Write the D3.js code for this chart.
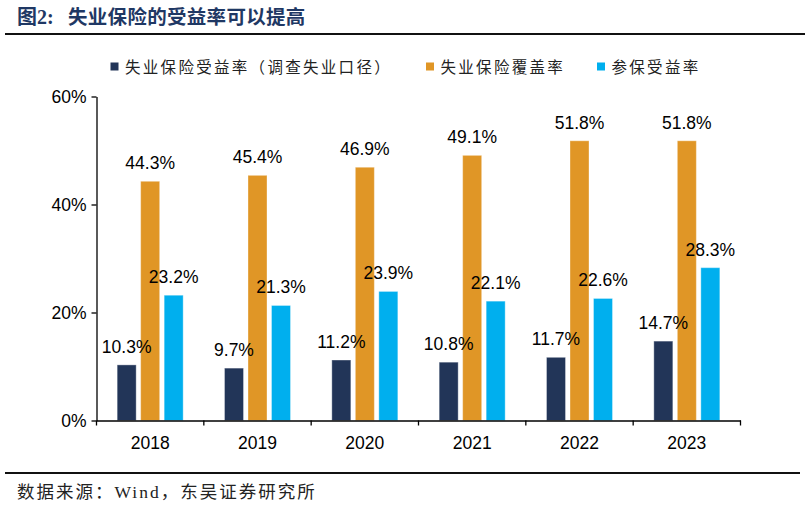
<!DOCTYPE html>
<html>
<head>
<meta charset="utf-8">
<script src="https://cdn.jsdelivr.net/npm/d3@7/dist/d3.min.js"></script>
<style>
  html, body { margin: 0; padding: 0; background: #fff; }
  svg { display: block; }
</style>
</head>
<body>
<svg id="chart" width="805" height="507"></svg>
<script>
const categories = ["2018", "2019", "2020", "2021", "2022", "2023"];
const seriesNames = ["失业保险受益率（调查失业口径）", "失业保险覆盖率", "参保受益率"];
const benefitRateSurvey = [10.3, 9.7, 11.2, 10.8, 11.7, 14.7];
const coverageRate = [44.3, 45.4, 46.9, 49.1, 51.8, 51.8];
const insuredBenefitRate = [23.2, 21.3, 23.9, 22.1, 22.6, 28.3];
const yTicks = [0, 20, 40, 60];
const colors = ["#223558", "#E09626", "#00AFEE"];
const titlePrefix = "图2:";
const titleText = "失业保险的受益率可以提高";
const sourceText = "数据来源：Wind，东吴证券研究所";

const series = [benefitRateSurvey, coverageRate, insuredBenefitRate];

const svg = d3.select("#chart");
const W = 805, H = 507;
const margin = { left: 96.5, right: 64.5, top: 96.5, bottom: 86.5 };

const x = d3.scaleBand().domain(categories).range([margin.left, W - margin.right]).padding(0);
const y = d3.scaleLinear().domain([0, 60]).range([H - margin.bottom, margin.top]);

// Title
svg.append("text")
  .attr("x", 17).attr("y", 24)
  .attr("font-family", "'Liberation Serif', 'Noto Sans CJK SC', serif")
  .attr("font-weight", "bold")
  .attr("font-size", 20)
  .attr("fill", "#1F3864")
  .text(titlePrefix);
svg.append("text")
  .attr("x", 68).attr("y", 24)
  .attr("font-family", "'Noto Sans CJK SC', sans-serif")
  .attr("font-weight", "bold")
  .attr("font-size", 19.5)
  .attr("letter-spacing", 0.3)
  .attr("fill", "#1F3864")
  .text(titleText);

svg.append("line")
  .attr("x1", 5).attr("x2", 805)
  .attr("y1", 34).attr("y2", 34)
  .attr("stroke", "#111").attr("stroke-width", 2);

// Legend
const legendPos = [110.5, 426, 597];
const legend = svg.append("g");
seriesNames.forEach((name, i) => {
  legend.append("rect")
    .attr("x", legendPos[i]).attr("y", 62.5)
    .attr("width", 8).attr("height", 8)
    .attr("fill", colors[i]);
  legend.append("text")
    .attr("x", legendPos[i] + 14.5).attr("y", 72.5)
    .attr("font-family", "'Noto Sans CJK SC', sans-serif")
    .attr("font-size", 15.5)
    .attr("letter-spacing", 2.3)
    .attr("fill", "#222")
    .text(name);
});

// Y axis
const yAxis = d3.axisLeft(y).tickValues(yTicks).tickFormat(d => d + "%").tickSize(5).tickSizeOuter(0);
const gy = svg.append("g").attr("transform", `translate(${margin.left},0)`).call(yAxis);
gy.select(".domain").attr("stroke", "#000").attr("stroke-width", 1.3);
gy.selectAll(".tick line").attr("stroke", "#000").attr("stroke-width", 1.3);
gy.selectAll(".tick text")
  .attr("font-family", "'Liberation Sans', Arial, sans-serif")
  .attr("font-size", 17.5).attr("fill", "#000").attr("x", -10).attr("dy", "0.35em");

// Bars
const barW = 19, step = 23.5;
const cx = (i, si) => x(categories[i]) + x.bandwidth() / 2 + (si - 1) * step;
const barsLayer = svg.append("g");
const labelsLayer = svg.append("g");
series.forEach((vals, si) => {
  barsLayer.append("g").selectAll("rect").data(vals).join("rect")
    .attr("x", (d, i) => cx(i, si) - barW / 2)
    .attr("y", d => y(d))
    .attr("width", barW)
    .attr("height", d => y(0) - y(d))
    .attr("fill", colors[si])
    .attr("stroke", "#ffffff")
    .attr("stroke-opacity", 0.35)
    .attr("stroke-width", 1);
  labelsLayer.append("g").selectAll("text").data(vals).join("text")
    .attr("x", (d, i) => cx(i, si))
    .attr("y", d => y(d) - 12)
    .attr("text-anchor", "middle")
    .attr("font-family", "'Liberation Sans', Arial, sans-serif")
    .attr("font-size", 17.5)
    .attr("fill", "#000")
    .text(d => d.toFixed(1) + "%");
});

// X axis
const xAxis = d3.axisBottom(x).tickSize(0).tickSizeOuter(0);
const gx = svg.append("g").attr("transform", `translate(0,${y(0)})`).call(xAxis);
gx.select(".domain").attr("stroke", "#000").attr("stroke-width", 1.3);
gx.selectAll(".tick text")
  .attr("font-family", "'Liberation Sans', Arial, sans-serif")
  .attr("font-size", 17.5).attr("fill", "#000").attr("dy", "1.45em");
const bounds = categories.map(c => x(c)).concat([x.range()[1]]);
gx.selectAll(".bound").data(bounds).join("line")
  .attr("class", "bound")
  .attr("x1", d => d).attr("x2", d => d)
  .attr("y1", 0).attr("y2", 5)
  .attr("stroke", "#000").attr("stroke-width", 1.3);

// Bottom line & source
svg.append("line")
  .attr("x1", 5).attr("x2", 800)
  .attr("y1", 473).attr("y2", 473)
  .attr("stroke", "#111").attr("stroke-width", 2);

svg.append("text")
  .attr("x", 17).attr("y", 498)
  .attr("font-family", "'Liberation Serif', 'Noto Sans CJK SC', serif")
  .attr("font-size", 17.5)
  .attr("letter-spacing", 2)
  .attr("fill", "#222")
  .text(sourceText);
</script>
</body>
</html>
